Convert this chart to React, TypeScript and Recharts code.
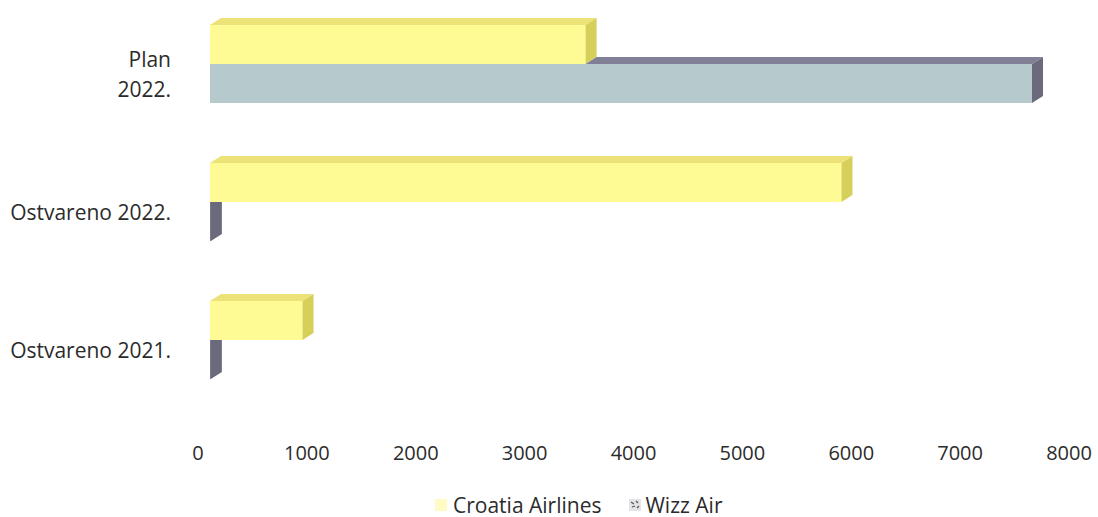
import React from 'react'
import { BarChart, Bar, XAxis, YAxis, Legend } from 'recharts'

// passenger numbers per carrier
const categories = ['Plan 2022.', 'Ostvareno 2022.', 'Ostvareno 2021.']
const croatiaAirlines = [3450, 5800, 850]
const wizzAir = [7550, 8, 8]
const xTicks = [0, 1000, 2000, 3000, 4000, 5000, 6000, 7000, 8000]
const seriesNames = ['Croatia Airlines', 'Wizz Air']

const data = categories.map((name, i) => ({
  name,
  croatia: croatiaAirlines[i],
  wizz: wizzAir[i],
}))

const FONT = "'Open Sans', sans-serif"
const TEXT = '#2b2b2b'
// depth of the fake 3d box
const D = 11
const DY = 7

const CroatiaBox = (p: any) => {
  const { x, y, width: w, height: h } = p
  return (
    <g>
      <rect x={x} y={y} width={w} height={h} fill="#fefa94" />
      <polygon points={`${x},${y} ${x + D},${y - DY} ${x + w + D},${y - DY} ${x + w},${y}`} fill="#ede277" />
      <polygon points={`${x + w},${y} ${x + w + D},${y - DY} ${x + w + D},${y + h - DY} ${x + w},${y + h}`} fill="#d6d05a" />
    </g>
  )
}

const WizzBox = (p: any) => {
  const { x, y, width: w, height: h, payload } = p
  // the yellow bar above hides whatever part of this box sits behind it
  const cw = payload.wizz ? (payload.croatia * w) / payload.wizz : 0
  const topFrom = Math.min(cw, w)
  const sideCovered = cw >= w + D
  return (
    <g>
      <rect x={x} y={y} width={w} height={h} fill={w < 3 ? '#6b6a7c' : '#b6c9cd'} />
      {cw < w && (
        <polygon
          points={`${x + topFrom},${y} ${x + topFrom + D},${y - DY} ${x + w + D},${y - DY} ${x + w},${y}`}
          fill="#807f95"
        />
      )}
      <polygon
        points={
          sideCovered
            ? `${x + w},${y} ${x + w + D},${y} ${x + w + D},${y + h - DY} ${x + w},${y + h}`
            : `${x + w},${y} ${x + w + D},${y - DY} ${x + w + D},${y + h - DY} ${x + w},${y + h}`
        }
        fill="#6b6a7c"
      />
    </g>
  )
}

const wrapped: Record<string, string[]> = { 'Plan 2022.': ['Plan', '2022.'] }

const CategoryTick = ({ x, y, payload }: any) => {
  const lines = wrapped[payload.value] || [payload.value]
  const cy = y + 10
  return (
    <text x={x - 39} y={cy} textAnchor="end" fill={TEXT} fontFamily={FONT} fontSize={21}>
      {lines.map((l, i) => (
        <tspan key={i} x={x - 39} y={cy + (i - (lines.length - 1) / 2) * 30} dominantBaseline="central">
          {l}
        </tspan>
      ))}
    </text>
  )
}

const ValueTick = ({ x, y, payload }: any) => (
  <text x={x - 12} y={y + 43} textAnchor="middle" dominantBaseline="central" fill={TEXT} fontFamily={FONT} fontSize={20}>
    {payload.value}
  </text>
)

const LegendContent = () => (
  <div style={{ height: 24, display: 'flex', alignItems: 'center', paddingLeft: 435, fontFamily: FONT, fontSize: 21, color: TEXT }}>
    <span style={{ width: 12, height: 12, background: '#fffbc4', display: 'inline-block' }} />
    <span style={{ marginLeft: 6 }}>{seriesNames[0]}</span>
    <svg width={12} height={12} style={{ marginLeft: 28 }}>
      <rect width={12} height={12} fill="#e4e4e8" />
      <path d="M2 3 L5 5 M7 2 L9 4 M3 8 L6 7 M8 9 L10 7" stroke="#555" strokeWidth={1.2} />
    </svg>
    <span style={{ marginLeft: 4 }}>{seriesNames[1]}</span>
  </div>
)

export default function App() {
  return (
    <div style={{ position: 'absolute', left: 0, top: 0, background: '#fff' }}>
      <BarChart
        width={1098}
        height={517}
        data={data}
        layout="vertical"
        margin={{ top: -5, right: 17, bottom: 0, left: 0 }}
        barSize={39}
        barGap={0}
      >
        <XAxis
          type="number"
          domain={[0, 8000]}
          ticks={xTicks}
          axisLine={false}
          tickLine={false}
          tickSize={0}
          tickMargin={0}
          height={84}
          tick={<ValueTick />}
          interval={0}
        />
        <YAxis
          type="category"
          dataKey="name"
          width={210}
          axisLine={false}
          tickLine={false}
          tickSize={0}
          tickMargin={0}
          tick={<CategoryTick />}
          interval={0}
        />
        <Legend verticalAlign="bottom" align="left" height={24} content={<LegendContent />} />
        <Bar dataKey="croatia" name={seriesNames[0]} shape={<CroatiaBox />} isAnimationActive={false} />
        <Bar dataKey="wizz" name={seriesNames[1]} shape={<WizzBox />} isAnimationActive={false} />
      </BarChart>
    </div>
  )
}
